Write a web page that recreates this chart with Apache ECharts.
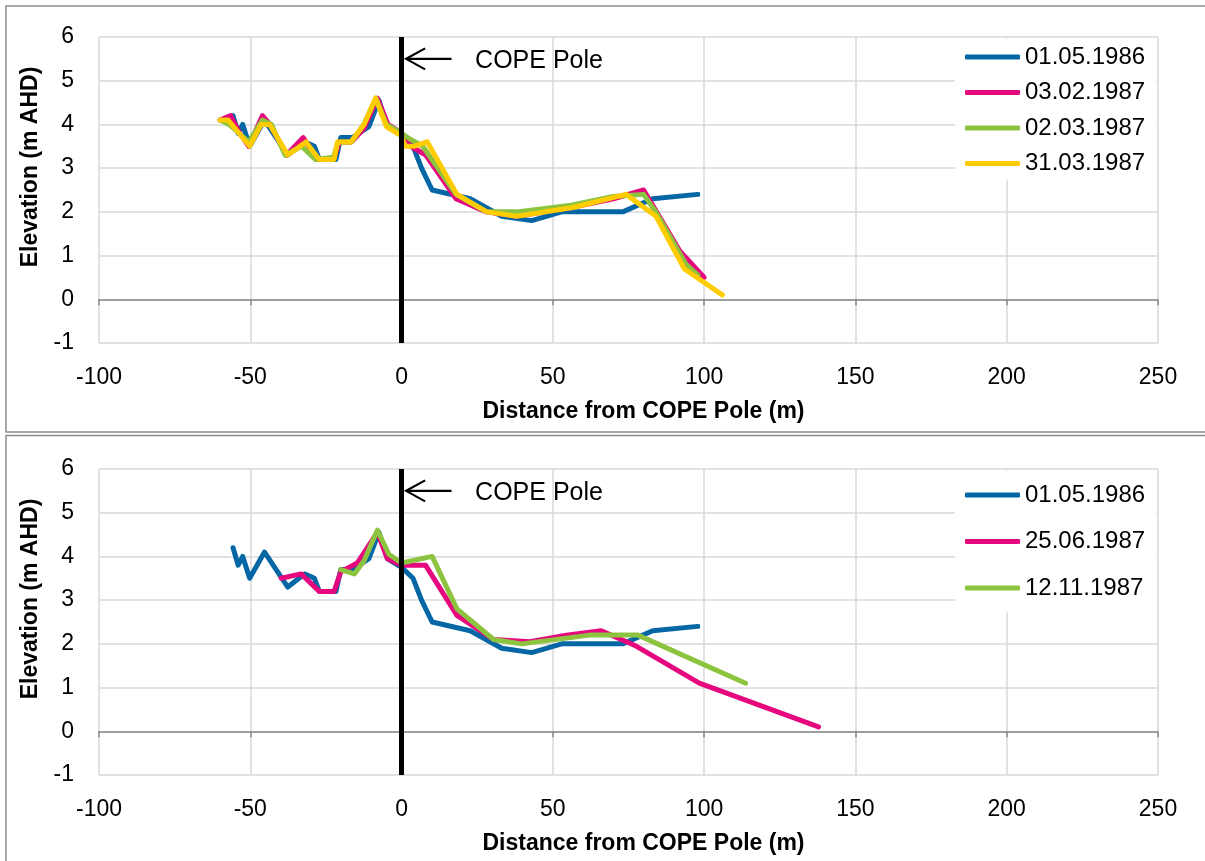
<!DOCTYPE html>
<html>
<head>
<meta charset="utf-8">
<script src="https://cdn.jsdelivr.net/npm/echarts@6/dist/echarts.min.js"></script>
<style>
  html, body { margin: 0; padding: 0; background: #fff; }
  #chart { width: 1205px; height: 861px; }
</style>
</head>
<body>
<div id="chart"></div>
<script>
// axis ranges
const X_MIN = -100, X_MAX = 250, X_STEP = 50;
const Y_MIN = -1, Y_MAX = 6, Y_STEP = 1;

// survey profiles: [distance (m), elevation (m AHD)]
const profile_01_05_1986 = [
  [-55.7, 4.2], [-54, 3.8], [-52.5, 4.0], [-50.2, 3.5], [-45.3, 4.1], [-37.6, 3.3],
  [-32.1, 3.6], [-28.8, 3.5], [-27.2, 3.2], [-21.7, 3.2], [-20.1, 3.7], [-16.2, 3.7],
  [-10.8, 3.95], [-7.5, 4.55], [-4.7, 3.95], [0, 3.75], [3.8, 3.5], [6.6, 3.0],
  [10.1, 2.5], [22.7, 2.3], [33.1, 1.9], [43, 1.8], [52.9, 2.0], [73.1, 2.0],
  [83, 2.3], [97.9, 2.4]
];
const profile_03_02_1987 = [
  [-60, 4.1], [-56.5, 4.2], [-53.5, 3.8], [-50.5, 3.5], [-46, 4.2], [-43.5, 4.0],
  [-38, 3.3], [-32.5, 3.7], [-28, 3.2], [-22.5, 3.2], [-20.5, 3.6], [-16.5, 3.6],
  [-12.5, 3.9], [-8, 4.6], [-4.5, 4.0], [0, 3.8], [3, 3.5], [8, 3.3], [18, 2.3],
  [28, 2.0], [38, 1.9], [56, 2.1], [70, 2.3], [80, 2.5], [92, 1.1], [100, 0.5]
];
const profile_02_03_1987 = [
  [-60, 4.1], [-57, 4.0], [-50.5, 3.6], [-46, 4.1], [-43, 4.0], [-38.5, 3.3],
  [-33, 3.5], [-28.5, 3.2], [-22.5, 3.25], [-21, 3.6], [-16.5, 3.6], [-12.5, 4.0],
  [-8.5, 4.6], [-5, 4.0], [0, 3.8], [2, 3.7], [7, 3.5], [18, 2.4], [28, 2.0],
  [38, 2.0], [56, 2.15], [70, 2.35], [80, 2.4], [84, 2.0], [94, 0.8], [98, 0.55]
];
const profile_31_03_1987 = [
  [-60, 4.1], [-57.3, 4.1], [-50.2, 3.5], [-46.4, 4.0], [-43.6, 4.0], [-37.6, 3.3],
  [-31.6, 3.6], [-27.2, 3.2], [-22.3, 3.2], [-21.2, 3.6], [-16.8, 3.6], [-12.4, 4.0],
  [-8.6, 4.6], [-5, 3.95], [-0.3, 3.75], [1.3, 3.5], [4, 3.5], [8.5, 3.6],
  [18.3, 2.4], [28.2, 2.0], [38, 1.9], [56.7, 2.1], [74.2, 2.4], [84.1, 1.9],
  [93.4, 0.7], [106, 0.1]
];
const profile_25_06_1987 = [
  [-39.8, 3.5], [-33.2, 3.6], [-27.2, 3.2], [-22.3, 3.2], [-20.1, 3.65], [-14.6, 3.85],
  [-8, 4.55], [-4.7, 3.95], [0, 3.8], [7.9, 3.8], [18.3, 2.65], [30.4, 2.1],
  [42.4, 2.05], [54.5, 2.2], [66, 2.3], [77.5, 1.95], [98.4, 1.1], [137.8, 0.1]
];
const profile_12_11_1987 = [
  [-20.1, 3.7], [-15.6, 3.6], [-12.4, 3.9], [-8, 4.6], [-4.2, 4.05], [0, 3.85],
  [10.1, 4.0], [18.3, 2.8], [30.4, 2.1], [39.7, 2.0], [62.2, 2.2], [78.1, 2.2],
  [113.7, 1.1]
];

const topLegend = ["01.05.1986", "03.02.1987", "02.03.1987", "31.03.1987"];
const bottomLegend = ["01.05.1986", "25.06.1987", "12.11.1987"];

const BLUE = "#0566a6", PINK = "#e6077e", GREEN = "#8dc43f", YELLOW = "#ffcc00";
const FONT = "'Liberation Sans', Arial, sans-serif";

const chart = echarts.init(document.getElementById("chart"));

function xAxisFor(gridIndex) {
  return {
    type: "value", gridIndex, min: X_MIN, max: X_MAX, interval: X_STEP,
    name: "Distance from COPE Pole (m)",
    nameLocation: "middle", nameGap: 57,
    nameTextStyle: { fontFamily: FONT, fontSize: 23, fontWeight: "bold", color: "#000", padding: [0, 0, 0, 30] },
    axisLine: { onZero: true, lineStyle: { color: "#898989", width: 1.5 } },
    axisTick: { show: true, length: 6, lineStyle: { color: "#898989", width: 1.5 } },
    axisLabel: { margin: 23, fontFamily: FONT, fontSize: 23, color: "#000" },
    splitLine: { lineStyle: { color: "#d9d9d9", width: 1.5 } },
  };
}

function yAxisFor(gridIndex) {
  return {
    type: "value", gridIndex, min: Y_MIN, max: Y_MAX, interval: Y_STEP,
    name: "Elevation (m AHD)",
    nameLocation: "middle", nameGap: 57, nameRotate: 90,
    nameTextStyle: { fontFamily: FONT, fontSize: 23, fontWeight: "bold", color: "#000", padding: [0, 0, 0, 46] },
    axisLine: { show: false },
    axisTick: { show: false },
    axisLabel: { margin: 25, fontFamily: FONT, fontSize: 23, color: "#000" },
    splitLine: { lineStyle: { color: "#d9d9d9", width: 1.5 } },
  };
}

function line(name, data, color, idx, pole) {
  const s = {
    name, type: "line", data, xAxisIndex: idx, yAxisIndex: idx,
    symbol: "none", showSymbol: false,
    lineStyle: { width: 5, color, cap: "round", join: "round" },
    itemStyle: { color },
  };
  if (pole) {
    s.markLine = {
      silent: true, symbol: "none", animation: false,
      label: { show: false },
      lineStyle: { color: "#000", width: 5, type: "solid" },
      data: [{ xAxis: 0 }],
    };
  }
  return s;
}

function legendFor(names, top, gap) {
  return {
    data: names, orient: "vertical", left: 960, top, itemGap: gap,
    icon: "roundRect", itemWidth: 55, itemHeight: 5,
    textStyle: { fontFamily: FONT, fontSize: 24, color: "#000", lineHeight: 24 },
    selectedMode: false,
  };
}

chart.setOption({
  animation: false,
  backgroundColor: "#fff",
  grid: [
    { left: 99, top: 37, width: 1059, height: 306, outerBoundsMode: "none" },
    { left: 99, top: 469, width: 1059, height: 306, outerBoundsMode: "none" },
  ],
  xAxis: [xAxisFor(0), xAxisFor(1)],
  yAxis: [yAxisFor(0), yAxisFor(1)],
  legend: [legendFor(topLegend, 40, 11.5), legendFor(bottomLegend, 478, 22.5)],
  series: [
    line("01.05.1986", profile_01_05_1986, BLUE, 0),
    line("03.02.1987", profile_03_02_1987, PINK, 0),
    line("02.03.1987", profile_02_03_1987, GREEN, 0),
    line("31.03.1987", profile_31_03_1987, YELLOW, 0, true),
    line("01.05.1986", profile_01_05_1986, BLUE, 1),
    line("25.06.1987", profile_25_06_1987, PINK, 1),
    line("12.11.1987", profile_12_11_1987, GREEN, 1, true),
  ],
});

// panel frames, legend boxes and the "COPE Pole" annotation
function poleNote(g) {
  const tip = chart.convertToPixel({ gridIndex: g }, [1.5, 5.5]);
  const tail = chart.convertToPixel({ gridIndex: g }, [16.5, 5.5]);
  const txt = chart.convertToPixel({ gridIndex: g }, [24.3, 5.5]);
  return [
    { type: "polyline", z: 10, shape: { points: [tip, tail] }, style: { stroke: "#000", lineWidth: 2.2 } },
    { type: "polyline", z: 10, shape: { points: [[tip[0] + 19, tip[1] - 10.5], tip, [tip[0] + 19, tip[1] + 10.5]] },
      style: { stroke: "#000", lineWidth: 2.2, fill: null } },
    { type: "text", z: 10, x: txt[0], y: txt[1] + 2,
      style: { text: "COPE Pole", fill: "#000", font: "25px " + FONT, verticalAlign: "middle", align: "left" } },
  ];
}

chart.setOption({
  graphic: [
    { type: "rect", z: 1, shape: { x: 955, y: 38.5, width: 201.5, height: 141 }, style: { fill: "#fff" } },
    { type: "rect", z: 1, shape: { x: 955, y: 470.5, width: 201.5, height: 142 }, style: { fill: "#fff" } },
    { type: "rect", z: 20, shape: { x: 6, y: 6, width: 1210, height: 426 }, style: { fill: null, stroke: "#8c8c8c", lineWidth: 1.5 } },
    { type: "rect", z: 20, shape: { x: 6, y: 435.5, width: 1210, height: 432 }, style: { fill: null, stroke: "#8c8c8c", lineWidth: 1.5 } },
    ...poleNote(0),
    ...poleNote(1),
  ],
});

window.addEventListener("resize", () => chart.resize());
</script>
</body>
</html>
